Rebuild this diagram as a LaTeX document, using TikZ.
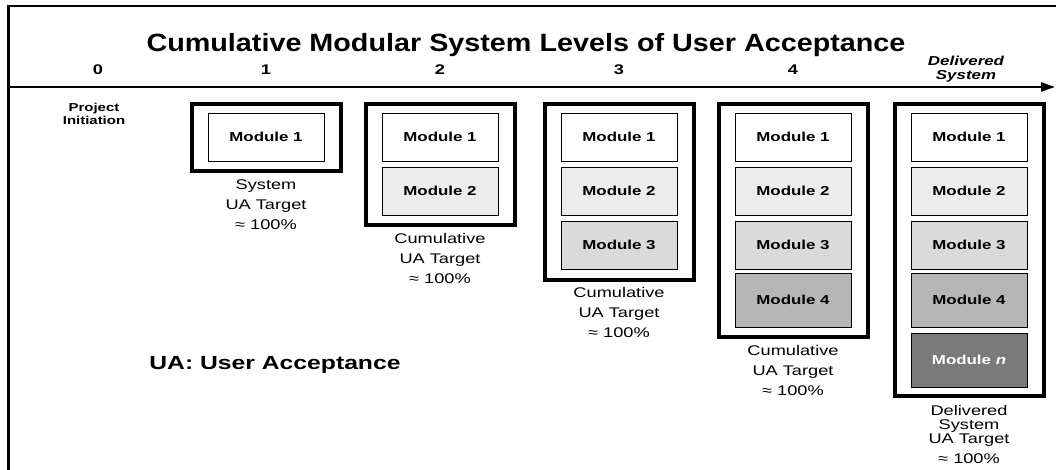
\documentclass[tikz,border=0pt]{standalone}
\usepackage{fontspec}
\setmainfont{Liberation Sans}[FakeStretch=1.3]
\usetikzlibrary{arrows.meta}
\definecolor{modtwo}{RGB}{236,236,236}
\definecolor{modthree}{RGB}{218,218,218}
\definecolor{modfour}{RGB}{182,182,182}
\definecolor{modlast}{RGB}{122,122,122}

\begin{document}
\begin{tikzpicture}[x=1pt,y=-1pt,
  module/.style={draw,line width=0.8pt,minimum width=116pt,minimum height=48pt,inner sep=0pt,font=\fontsize{13}{15}\selectfont\bfseries},
  tall/.style={minimum height=54pt},
  stage/.style={draw,line width=4pt,minimum width=149pt,inner sep=0pt},
  target/.style={anchor=north,align=center,inner sep=0pt,font=\fontsize{14}{20}\selectfont},
  level/.style={font=\fontsize{14}{16}\selectfont\bfseries}]
  \useasboundingbox (0,0) rectangle (1056,470);
  % frame and time axis
  \draw[line width=2.4pt] (1056,6) -| (8.5,470);
  \coordinate (axisL) at (8.5,87);
  \coordinate (axisR) at (1055,87);
  \draw[line width=2.4pt,-{Triangle[length=14pt,width=9pt]}] (axisL) -- (axisR);
  \node[font=\fontsize{25}{28}\selectfont\bfseries\addfontfeatures{FakeStretch=1.15}] (title) at (526,45) {Cumulative Modular System Levels of User Acceptance};
  \node[level] (lvl0) at (98,70) {0};
  \node[level] (lvl1) at (266,70) {1};
  \node[level] (lvl2) at (440,70) {2};
  \node[level] (lvl3) at (619,70) {3};
  \node[level] (lvl4) at (793,70) {4};
  \node[align=center,font=\fontsize{13}{14}\selectfont\bfseries\itshape] (lvl5) at (966,69) {Delivered\\System};
  \node[align=center,font=\fontsize{11.5}{13}\selectfont\bfseries] (start) at (94,114) {Project\\Initiation};
  \node[font=\fontsize{19}{22}\selectfont\bfseries] (legend) at (275,365) {UA: User Acceptance};

  % stage 1
  \node[stage,minimum height=67pt] (stage1) at (266.5,137.5) {};
  \node[module] (m11) at (266,137) {Module 1};
  \node[target] (t1) at (266,180) {System\\UA Target\\≈ 100\%};
  % stage 2
  \node[stage,minimum height=121pt] (stage2) at (440,164.5) {};
  \node[module] (m21) at (440,137) {Module 1};
  \node[module,fill=modtwo] (m22) at (440,191) {Module 2};
  \node[target] (t2) at (440,233) {Cumulative\\UA Target\\≈ 100\%};
  % stage 3
  \node[stage,minimum height=176pt] (stage3) at (619,192) {};
  \node[module] (m31) at (619,137) {Module 1};
  \node[module,fill=modtwo] (m32) at (619,191) {Module 2};
  \node[module,fill=modthree] (m33) at (619,245) {Module 3};
  \node[target] (t3) at (619,287) {Cumulative\\UA Target\\≈ 100\%};
  % stage 4
  \node[stage,minimum height=233pt] (stage4) at (793,220.5) {};
  \node[module] (m41) at (793,137) {Module 1};
  \node[module,fill=modtwo] (m42) at (793,191) {Module 2};
  \node[module,fill=modthree] (m43) at (793,245) {Module 3};
  \node[module,tall,fill=modfour] (m44) at (793,300) {Module 4};
  \node[target] (t4) at (793,345) {Cumulative\\UA Target\\≈ 100\%};
  % delivered system
  \node[stage,minimum height=292pt] (stage5) at (969,250) {};
  \node[module] (m51) at (969,137) {Module 1};
  \node[module,fill=modtwo] (m52) at (969,191) {Module 2};
  \node[module,fill=modthree] (m53) at (969,245) {Module 3};
  \node[module,tall,fill=modfour] (m54) at (969,300) {Module 4};
  \node[module,tall,fill=modlast,text=white] (m55) at (969,360) {Module \textit{n}};
  \node[target,font=\fontsize{14}{14}\selectfont] (t5) at (969,405) {Delivered\\System\\UA Target\\[6pt]≈ 100\%};
\end{tikzpicture}
\end{document}
